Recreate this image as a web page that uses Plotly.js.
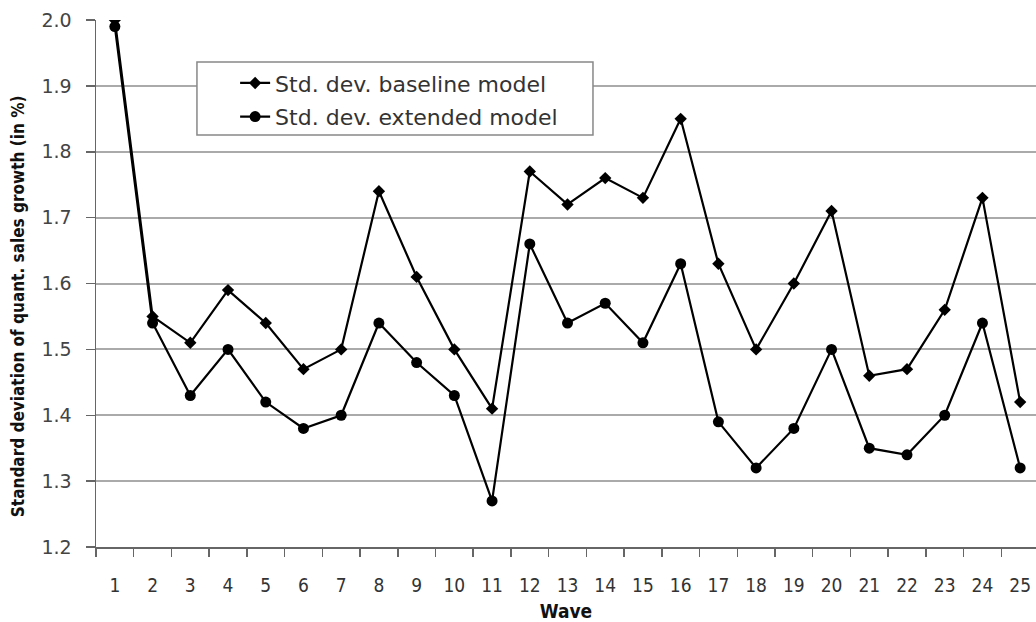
<!DOCTYPE html>
<html><head><meta charset="utf-8">
<script src="https://cdn.plot.ly/plotly-3.0.1.min.js"></script>
<style>html,body{margin:0;padding:0;background:#fff}#chart{width:1036px;height:622px}</style>
</head><body><div id="chart"></div>
<script>
const waves = ['1','2','3','4','5','6','7','8','9','10','11','12','13','14','15','16','17','18','19','20','21','22','23','24','25'];
const baseline = [2.00,1.55,1.51,1.59,1.54,1.47,1.50,1.74,1.61,1.50,1.41,1.77,1.72,1.76,1.73,1.85,1.63,1.50,1.60,1.71,1.46,1.47,1.56,1.73,1.42];
const extended = [1.99,1.54,1.43,1.50,1.42,1.38,1.40,1.54,1.48,1.43,1.27,1.66,1.54,1.57,1.51,1.63,1.39,1.32,1.38,1.50,1.35,1.34,1.40,1.54,1.32];
const yTicks = [1.2,1.3,1.4,1.5,1.6,1.7,1.8,1.9,2.0];
const yTickText = ['1.2','1.3','1.4','1.5','1.6','1.7','1.8','1.9','2.0'];

const traces = [
  {x: waves, y: baseline, name: 'Std. dev. baseline model', mode: 'lines+markers',
   legendgroup: 'a',
   line: {color: '#000', width: 2.2}, marker: {symbol: 'diamond', size: 9.5, color: '#000'}},
  {x: waves, y: extended, name: 'Std. dev. extended model', mode: 'lines+markers',
   legendgroup: 'b',
   line: {color: '#000', width: 2.2}, marker: {symbol: 'circle', size: 11, color: '#000'}}
];

const layout = {
  width: 1036, height: 622,
  margin: {l: 96, r: 0, t: 20, b: 75},
  paper_bgcolor: '#fff', plot_bgcolor: '#fff',
  showlegend: true,
  legend: {x: 0.148, y: 0.92, xanchor: 'left', yanchor: 'top',
    bgcolor: 'rgba(0,0,0,0)', borderwidth: 0,
    traceorder: 'grouped', tracegroupgap: 2,
    font: {family: 'DejaVu Sans', size: 22, color: '#333'},
    itemwidth: 30},
  shapes: [{type: 'rect', xref: 'paper', yref: 'paper', x0: 0.1074, x1: 0.5287, y0: 0.7818, y1: 0.9203,
    fillcolor: '#fff', line: {color: '#888', width: 1.5}, layer: 'above'}],
  annotations: [{xref: 'paper', yref: 'paper', x: -0.083, y: 0.457, xanchor: 'center', yanchor: 'middle',
    textangle: -90, showarrow: false,
    text: '<b>Standard deviation of quant. sales growth (in %)</b>',
    font: {family: 'DejaVu Sans Condensed, DejaVu Sans', size: 17, color: '#111'}}],
  xaxis: {
    type: 'category', range: [-0.5, 24.42],
    showgrid: false, zeroline: false, showline: true, linecolor: '#666', linewidth: 1.5,
    ticks: 'outside', ticklen: 8, tickcolor: '#666', tickwidth: 1.5, tickson: 'boundaries',
    ticklabelstandoff: 21,
    tickfont: {family: 'DejaVu Sans Condensed, DejaVu Sans', size: 19, color: '#333'},
    title: {text: '<b>Wave</b>', standoff: 10, font: {family: 'DejaVu Sans Condensed, DejaVu Sans', size: 19, color: '#111'}}
  },
  yaxis: {
    range: [1.2, 2.0], tickmode: 'array', tickvals: yTicks, ticktext: yTickText,
    showgrid: true, gridcolor: '#aaa', gridwidth: 2, zeroline: false,
    showline: true, linecolor: '#666', linewidth: 1.5,
    ticks: 'outside', ticklen: 9, tickcolor: '#666', tickwidth: 1.5,
    ticklabelstandoff: 10,
    tickfont: {family: 'DejaVu Sans', size: 19, color: '#444'}
  }
};
Plotly.newPlot('chart', traces, layout, {displayModeBar: false, staticPlot: true});
</script></body></html>
